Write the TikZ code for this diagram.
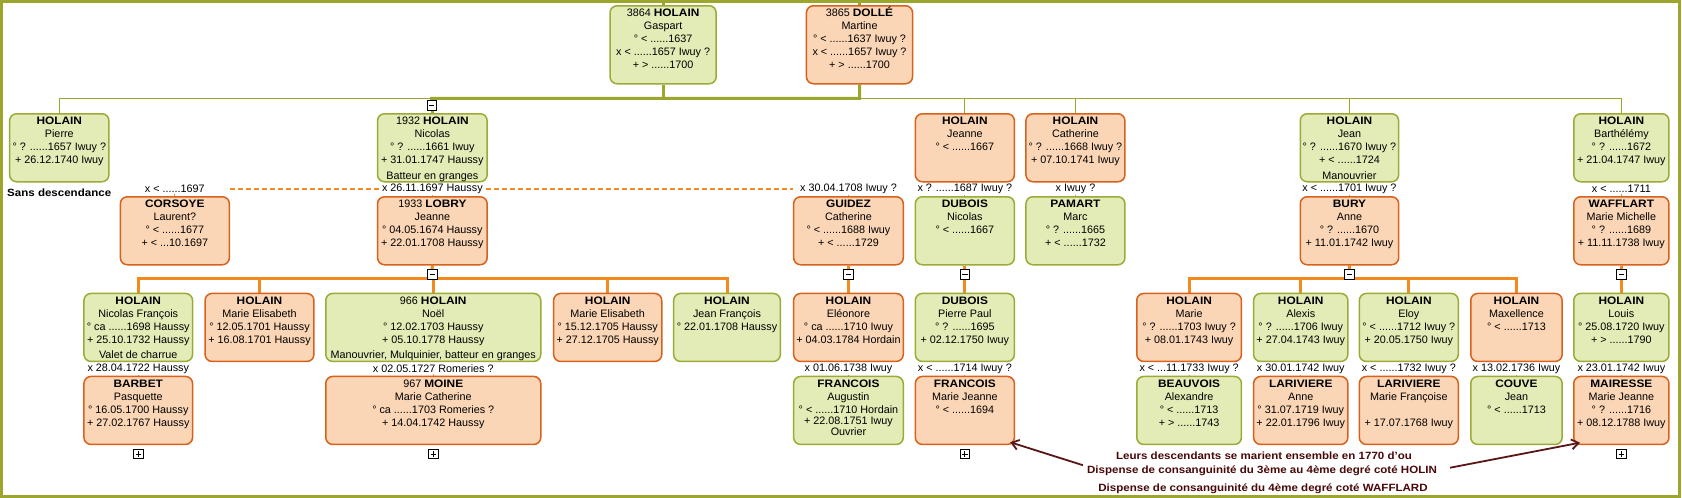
\documentclass[tikz,border=0pt]{standalone}
\usepackage{fontspec}
\setmainfont{Liberation Sans}[BoldFeatures={FakeStretch=1.1}]
\usetikzlibrary{arrows.meta,backgrounds}
\definecolor{gfill}{HTML}{E3EBB6}
\definecolor{gborder}{HTML}{9DAA38}
\definecolor{ofill}{HTML}{FBD6B6}
\definecolor{oborder}{HTML}{D8621C}
\definecolor{frameol}{HTML}{9CA62C}
\definecolor{lineor}{HTML}{F28A1E}
\definecolor{arrc}{HTML}{5A1616}
\definecolor{notec}{HTML}{4A0808}
\newcommand\nf{\fontsize{10.8}{12.9}\selectfont}
\newcommand\notef{\fontsize{10.5}{12}\selectfont}
\newcommand\pb[3]{\parbox[c][#2pt][t]{#1pt}{\centering\rule{0pt}{10.9pt}#3\par}}
\begin{document}
\begin{tikzpicture}[x=1pt,y=-1pt,
 box/.style={anchor=north west, inner sep=0pt, rounded corners=7pt, line width=1.5pt, font=\nf},
 gbox/.style={box, draw=gborder, fill=gfill},
 obox/.style={box, draw=oborder, fill=ofill},
 mlab/.style={font=\nf, fill=white, inner sep=0.8pt},
 thickol/.style={draw=frameol, line width=3pt},
 thinol/.style={draw=frameol, line width=1.1pt},
 thickor/.style={draw=lineor, line width=3pt},
 tick/.style={draw=lineor, line width=1pt},
 spdash/.style={draw=lineor, line width=1.4pt, dash pattern=on 5pt off 3pt},
 tog/.style={draw=black, fill=white, line width=0.7pt, minimum size=9.5pt, inner sep=0pt},
 minusbox/.style={tog, path picture={\draw[line width=0.8pt] ([xshift=-2.7pt]path picture bounding box.center) -- ([xshift=2.7pt]path picture bounding box.center);}},
 plusbox/.style={tog, path picture={\draw[line width=0.8pt] ([xshift=-2.7pt]path picture bounding box.center) -- ([xshift=2.7pt]path picture bounding box.center) ([yshift=-2.7pt]path picture bounding box.center) -- ([yshift=2.7pt]path picture bounding box.center);}},
 note/.style={font=\notef, text=notec, inner sep=0pt},
 arr/.style={draw=arrc, line width=1.8pt, -{Straight Barb[length=7pt,width=10pt]}},
]
\useasboundingbox (0,0) rectangle (1682,498);
\coordinate (ftop) at (841,1.4);

% Row 0
\node[gbox] (gaspart) at (609.3,5) {\pb{106.1}{78}{3864 \textbf{HOLAIN}\\Gaspart\\° < ......1637\\x < ......1657 Iwuy ?\\+ > ......1700}};
\node[obox] (martine) at (805.7,5) {\pb{106.1}{78}{3865 \textbf{DOLLÉ}\\Martine\\° < ......1637 Iwuy ?\\x < ......1657 Iwuy ?\\+ > ......1700}};

% Row 1
\node[gbox] (pierre) at (8.9,113) {\pb{99.3}{68}{\textbf{HOLAIN}\\Pierre\\° ? ......1657 Iwuy ?\\+ 26.12.1740 Iwuy}};
\node[gbox] (nicolas) at (376.8,113) {\pb{109.6}{68}{1932 \textbf{HOLAIN}\\Nicolas\\° ? ......1661 Iwuy\\+ 31.01.1747 Haussy\\[2.8pt]Batteur en granges}};
\node[obox] (jeanne) at (914.6,113) {\pb{99}{68}{\textbf{HOLAIN}\\Jeanne\\° < ......1667}};
\node[obox] (catherine) at (1025.2,113) {\pb{99}{68}{\textbf{HOLAIN}\\Catherine\\° ? ......1668 Iwuy ?\\+ 07.10.1741 Iwuy}};
\node[gbox] (jean) at (1299.5,113) {\pb{98.4}{68}{\textbf{HOLAIN}\\Jean\\° ? ......1670 Iwuy ?\\+ < ......1724\\[2.8pt]Manouvrier}};
\node[gbox] (barth) at (1573,113) {\pb{95.2}{68}{\textbf{HOLAIN}\\Barthélémy\\° ? ......1672\\+ 21.04.1747 Iwuy}};

% Row 2
\node[obox] (corsoye) at (119.6,196) {\pb{109}{68}{\textbf{CORSOYE}\\Laurent?\\° < ......1677\\+ < ...10.1697}};
\node[obox] (lobry) at (376.8,196) {\pb{109.6}{68}{1933 \textbf{LOBRY}\\Jeanne\\° 04.05.1674 Haussy\\+ 22.01.1708 Haussy}};
\node[obox] (guidez) at (792.9,196) {\pb{109.6}{68}{\textbf{GUIDEZ}\\Catherine\\° < ......1688 Iwuy\\+ < ......1729}};
\node[gbox] (duboisn) at (914.6,196) {\pb{99}{68}{\textbf{DUBOIS}\\Nicolas\\° < ......1667}};
\node[gbox] (pamart) at (1025.2,196) {\pb{99}{68}{\textbf{PAMART}\\Marc\\° ? ......1665\\+ < ......1732}};
\node[obox] (bury) at (1299.5,196) {\pb{98.4}{68}{\textbf{BURY}\\Anne\\° ? ......1670\\+ 11.01.1742 Iwuy}};
\node[obox] (wafflart) at (1573,196) {\pb{95.2}{68}{\textbf{WAFFLART}\\Marie Michelle\\° ? ......1689\\+ 11.11.1738 Iwuy}};

% Row 3
\node[gbox] (nicfr) at (83.2,292.7) {\pb{108.6}{68}{\textbf{HOLAIN}\\Nicolas François\\° ca ......1698 Haussy\\+ 25.10.1732 Haussy\\[2.8pt]Valet de charrue}};
\node[obox] (marel1) at (204.3,292.7) {\pb{108.9}{68}{\textbf{HOLAIN}\\Marie Elisabeth\\° 12.05.1701 Haussy\\+ 16.08.1701 Haussy}};
\node[gbox] (noel) at (325,292.7) {\pb{215}{68}{966 \textbf{HOLAIN}\\Noël\\° 12.02.1703 Haussy\\+ 05.10.1778 Haussy\\[2.8pt]Manouvrier, Mulquinier, batteur en granges}};
\node[obox] (marel2) at (552.9,292.7) {\pb{108.1}{68}{\textbf{HOLAIN}\\Marie Elisabeth\\° 15.12.1705 Haussy\\+ 27.12.1705 Haussy}};
\node[gbox] (jeanfr) at (672.9,292.7) {\pb{106.7}{68}{\textbf{HOLAIN}\\Jean François\\° 22.01.1708 Haussy}};
\node[obox] (eleonore) at (792.9,292.7) {\pb{109.6}{68}{\textbf{HOLAIN}\\Eléonore\\° ca ......1710 Iwuy\\+ 04.03.1784 Hordain}};
\node[gbox] (pierrepaul) at (914.6,292.7) {\pb{99}{68}{\textbf{DUBOIS}\\Pierre Paul\\° ? ......1695\\+ 02.12.1750 Iwuy}};
\node[obox] (marie) at (1136,292.7) {\pb{104.7}{68}{\textbf{HOLAIN}\\Marie\\° ? ......1703 Iwuy ?\\+ 08.01.1743 Iwuy}};
\node[gbox] (alexis) at (1252.9,292.7) {\pb{94.2}{68}{\textbf{HOLAIN}\\Alexis\\° ? ......1706 Iwuy\\+ 27.04.1743 Iwuy}};
\node[gbox] (eloy) at (1358.6,292.7) {\pb{98.9}{68}{\textbf{HOLAIN}\\Eloy\\° < ......1712 Iwuy ?\\+ 20.05.1750 Iwuy}};
\node[obox] (maxellence) at (1470,292.7) {\pb{91.4}{68}{\textbf{HOLAIN}\\Maxellence\\° < ......1713}};
\node[gbox] (louis) at (1573,292.7) {\pb{95.2}{68}{\textbf{HOLAIN}\\Louis\\° 25.08.1720 Iwuy\\+ > ......1790}};

% Row 4
\node[obox] (barbet) at (83.2,375.7) {\pb{108.6}{68}{\textbf{BARBET}\\Pasquette\\° 16.05.1700 Haussy\\+ 27.02.1767 Haussy}};
\node[obox] (moine) at (325,375.7) {\pb{215}{68}{967 \textbf{MOINE}\\Marie Catherine\\° ca ......1703 Romeries ?\\+ 14.04.1742 Haussy}};
\node[gbox] (augustin) at (792.9,375.7) {\pb{109.6}{68}{\textbf{FRANCOIS}\\Augustin\\° < ......1710 Hordain\\[-1.5pt]+ 22.08.1751 Iwuy\\[-1.5pt]Ouvrier}};
\node[obox] (mjfrancois) at (914.6,375.7) {\pb{99}{68}{\textbf{FRANCOIS}\\Marie Jeanne\\° < ......1694}};
\node[gbox] (beauvois) at (1136,375.7) {\pb{104.7}{68}{\textbf{BEAUVOIS}\\Alexandre\\° < ......1713\\+ > ......1743}};
\node[obox] (lariv1) at (1252.9,375.7) {\pb{94.2}{68}{\textbf{LARIVIERE}\\Anne\\° 31.07.1719 Iwuy\\+ 22.01.1796 Iwuy}};
\node[obox] (lariv2) at (1358.6,375.7) {\pb{98.9}{68}{\textbf{LARIVIERE}\\Marie Françoise\\\mbox{}\\+ 17.07.1768 Iwuy}};
\node[gbox] (couve) at (1470,375.7) {\pb{91.4}{68}{\textbf{COUVE}\\Jean\\° < ......1713}};
\node[obox] (mairesse) at (1573,375.7) {\pb{95.2}{68}{\textbf{MAIRESSE}\\Marie Jeanne\\° ? ......1716\\+ 08.12.1788 Iwuy}};

% marriage labels
\node[mlab] (lcor) at ([yshift=7pt]corsoye.north) {x < ......1697};
\node[mlab] (llob) at ([yshift=7pt]lobry.north) {x 26.11.1697 Haussy};
\node[mlab] (lgui) at ([yshift=7pt]guidez.north) {x 30.04.1708 Iwuy ?};
\node[mlab] (ldub) at ([yshift=7pt]duboisn.north) {x ? ......1687 Iwuy ?};
\node[mlab] (lpam) at ([yshift=7pt]pamart.north) {x Iwuy ?};
\node[mlab] (lbur) at ([yshift=7pt]bury.north) {x < ......1701 Iwuy ?};
\node[mlab] (lwaf) at ([yshift=7pt]wafflart.north) {x < ......1711};
\node[mlab] (lbar) at ([yshift=6.6pt]barbet.north) {x 28.04.1722 Haussy};
\node[mlab] (lmoi) at ([yshift=6.6pt]moine.north) {x 02.05.1727 Romeries ?};
\node[mlab] (laug) at ([yshift=6.6pt]augustin.north) {x 01.06.1738 Iwuy};
\node[mlab] (lmjf) at ([yshift=6.6pt]mjfrancois.north) {x < ......1714 Iwuy ?};
\node[mlab] (lbea) at ([yshift=6.6pt]beauvois.north) {x < ...11.1733 Iwuy ?};
\node[mlab] (llr1) at ([yshift=6.6pt]lariv1.north) {x 30.01.1742 Iwuy};
\node[mlab] (llr2) at ([yshift=6.6pt]lariv2.north) {x < ......1732 Iwuy ?};
\node[mlab] (lcou) at ([yshift=6.6pt]couve.north) {x 13.02.1736 Iwuy};
\node[mlab] (lmai) at ([yshift=6.6pt]mairesse.north) {x 23.01.1742 Iwuy};

\node[anchor=west, inner sep=0pt, font=\notef] (sansdesc) at (7,192.3) {\textbf{Sans descendance}};

% toggles
\node[minusbox] (tnic) at (431.6,105.3) {};
\node[minusbox] (tlob) at ([yshift=-8.6pt]lobry.south) {};
\node[minusbox] (tgui) at ([yshift=-8.6pt]guidez.south) {};
\node[minusbox] (tdub) at ([yshift=-8.6pt]duboisn.south) {};
\node[minusbox] (tbur) at ([yshift=-8.6pt]bury.south) {};
\node[minusbox] (twaf) at ([yshift=-8.6pt]wafflart.south) {};
\node[plusbox] (pbar) at ([yshift=-8.8pt]barbet.south) {};
\node[plusbox] (pmoi) at ([yshift=-8.8pt]moine.south) {};
\node[plusbox] (pmjf) at ([yshift=-8.8pt]mjfrancois.south) {};
\node[plusbox] (pmai) at ([yshift=-8.8pt]mairesse.south) {};

\coordinate (busT) at (431.6,98.3);
\coordinate (busL) at (431.6,278.3);
\coordinate (busB) at (1348.7,278.3);

\begin{pgfonlayer}{background}
 \fill[white] (0,0) rectangle (1682,498);
 \draw[draw=frameol, line width=2.8pt] (1.4,1.4) rectangle (1679.4,496.6);
 % top generation
 \draw[thickol] (gaspart.north) -- (gaspart.north |- ftop);
 \draw[thickol] (martine.north) -- (martine.north |- ftop);
 \draw[thinol] (pierre.north) |- (busT) -| (barth.north);
 \draw[thinol] (jeanne.north) -- (jeanne.north |- busT);
 \draw[thinol] (catherine.north) -- (catherine.north |- busT);
 \draw[thinol] (jean.north) -- (jean.north |- busT);
 \draw[thickol] (nicolas.north) -- (busT) -| (martine.south);
 \draw[thickol] (gaspart.south) -- (gaspart.south |- busT);
 % spouses
 \draw[spdash] (corsoye.north east |- lcor) -- (guidez.north west |- lgui);
 \foreach \l/\b in {lcor/corsoye,llob/lobry,lgui/guidez,ldub/duboisn,lpam/pamart,lbur/bury,lwaf/wafflart,lbar/barbet,lmoi/moine,laug/augustin,lmjf/mjfrancois,lbea/beauvois,llr1/lariv1,llr2/lariv2,lcou/couve,lmai/mairesse}
   {\draw[tick] (\l.south) -- (\b.north);}
 % children of Nicolas & Lobry
 \draw[thickor] (lobry.south) -- (busL);
 \draw[thickor] (nicfr.north) |- (busL) -| (jeanfr.north);
 \draw[thickor] (marel1.north) -- (marel1.north |- busL);
 \draw[thickor] (noel.north) -- (noel.north |- busL);
 \draw[thickor] (marel2.north) -- (marel2.north |- busL);
 \draw[thickor] (guidez.south) -- (eleonore.north);
 \draw[thickor] (duboisn.south) -- (pierrepaul.north);
 % children of Jean & Bury
 \draw[thickor] (bury.south) -- (busB);
 \draw[thickor] (marie.north) |- (busB) -| (maxellence.north);
 \draw[thickor] (alexis.north) -- (alexis.north |- busB);
 \draw[thickor] (eloy.north) -- (eloy.north |- busB);
 \draw[thickor] (wafflart.south) -- (louis.north);
\end{pgfonlayer}

% notes
\node[note] (note1) at (1264,455.7) {\textbf{Leurs descendants se marient ensemble en 1770 d'ou}};
\node[note] (note2) at (1262,470.7) {\textbf{Dispense de consanguinité du 3ème au 4ème degré coté HOLIN}};
\node[note] (note3) at (1263,488.3) {\textbf{Dispense de consanguinité du 4ème degré coté WAFFLARD}};
\draw[arr] ([xshift=-4pt,yshift=5.5pt]note2.west) -- ([xshift=-5pt,yshift=3pt]mjfrancois.south east);
\draw[arr] ([xshift=13pt,yshift=3pt]note2.east) -- ([xshift=7pt,yshift=2.5pt]mairesse.south west);
\end{tikzpicture}
\end{document}
